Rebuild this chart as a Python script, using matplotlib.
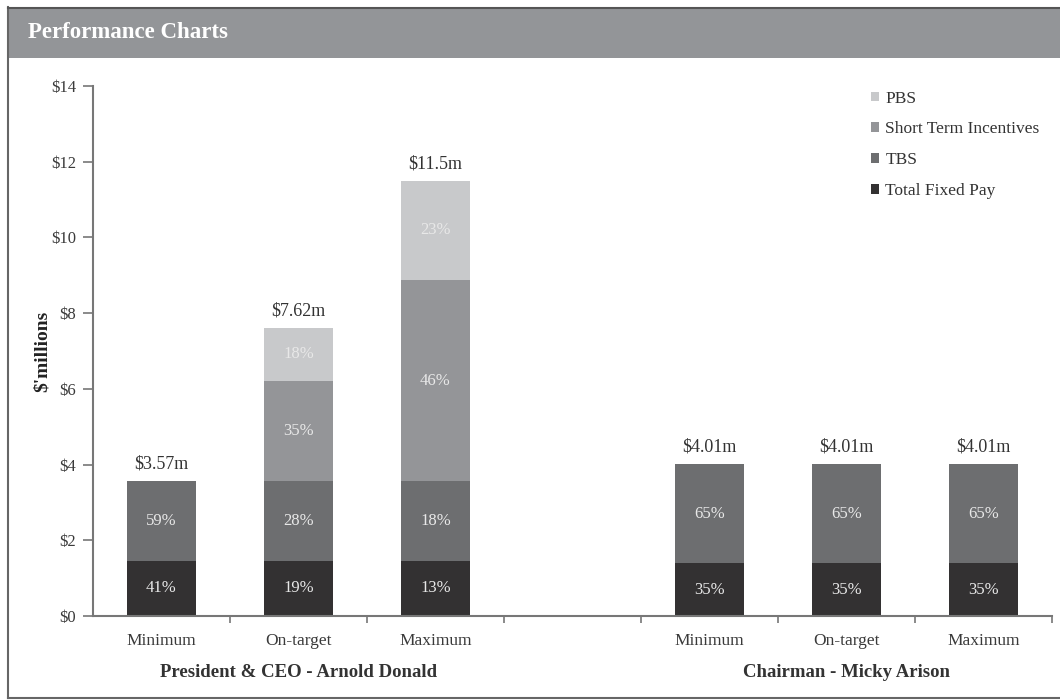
import matplotlib
matplotlib.use("Agg")
import matplotlib.pyplot as plt
from matplotlib.patches import Rectangle, Patch
from matplotlib.lines import Line2D
import numpy as np

plt.rcParams['font.family'] = ['Liberation Serif', 'DejaVu Serif']

# data ($ millions)
categories = ['Minimum', 'On-target', 'Maximum', '', 'Minimum', 'On-target', 'Maximum']
series_names = ['Total Fixed Pay', 'TBS', 'Short Term Incentives', 'PBS']
fixed_pay = [1.46, 1.46, 1.46, 0, 1.40, 1.40, 1.40]
tbs = [2.11, 2.11, 2.11, 0, 2.61, 2.61, 2.61]
sti = [0, 2.65, 5.30, 0, 0, 0, 0]
pbs = [0, 1.40, 2.63, 0, 0, 0, 0]
totals = ['$3.57m', '$7.62m', '$11.5m', '', '$4.01m', '$4.01m', '$4.01m']
pct_fixed = ['41%', '19%', '13%', '', '35%', '35%', '35%']
pct_tbs = ['59%', '28%', '18%', '', '65%', '65%', '65%']
pct_sti = ['', '35%', '46%', '', '', '', '']
pct_pbs = ['', '18%', '23%', '', '', '', '']
groups = ['President & CEO - Arnold Donald', 'Chairman - Micky Arison']
yticks = [0, 2, 4, 6, 8, 10, 12, 14]

colors = ['#333132', '#6d6e70', '#949598', '#c8c9cb']

W, H = 1060, 700
fig = plt.figure(figsize=(W / 100, H / 100), dpi=100)

# frame and header band
fig.add_artist(Rectangle((8 / W, 1 - 58 / H), 1 - 8 / W, 50 / H, transform=fig.transFigure,
                         facecolor='#939598', edgecolor='none'))
fig.add_artist(Line2D([8 / W, 8 / W], [1 - 698 / H, 1 - 7 / H], transform=fig.transFigure,
                      color='#666666', lw=1.5))
fig.add_artist(Line2D([8 / W, 1], [1 - 698 / H, 1 - 698 / H], transform=fig.transFigure,
                      color='#666666', lw=1.5))
fig.add_artist(Line2D([8 / W, 1], [1 - 7.5 / H, 1 - 7.5 / H], transform=fig.transFigure,
                      color='#555555', lw=1.5))
fig.text(28 / W, 1 - 32 / H, 'Performance Charts', color='white', fontsize=16.5,
         fontweight='bold', va='center', ha='left')

ax = fig.add_axes([93 / W, 1 - 616 / H, (1052 - 93) / W, (616 - 86) / H])

x = np.arange(len(categories))
width = 0.5
segs = [fixed_pay, tbs, sti, pbs]
pcts = [pct_fixed, pct_tbs, pct_sti, pct_pbs]
bottom = np.zeros(len(categories))
for vals, pl, col, name in zip(segs, pcts, colors, series_names):
    vals = np.array(vals)
    ax.bar(x, vals, width, bottom=bottom, color=col, label=name, linewidth=0)
    for xi, v, b, t in zip(x, vals, bottom, pl):
        if v > 0 and t:
            ax.text(xi, b + v / 2, t, ha='center', va='center', color='#e8e8e8', fontsize=12)
    bottom = bottom + vals

for xi, top, t in zip(x, bottom, totals):
    if t:
        ax.annotate(t, (xi, top), xytext=(0, 6), textcoords='offset points',
                    ha='center', va='bottom', color='#333333', fontsize=13)

ax.set_xlim(-0.5, len(categories) - 0.5)
ax.set_ylim(0, 14)
ax.set_yticks(yticks)
ax.set_yticklabels(['$%d' % v for v in yticks], fontsize=12, color='#3a3a3a')
ax.set_xticks(x)
ax.set_xticklabels(categories, fontsize=12.5, color='#3a3a3a')
ax.tick_params(axis='x', which='major', length=0, pad=12)
ax.set_xticks(np.arange(0.5, len(categories), 1), minor=True)
ax.tick_params(axis='x', which='minor', length=5, direction='out', color='#777777', width=1.2)
ax.tick_params(axis='y', length=7, width=1.2, color='#777777', pad=5)

for s in ['top', 'right']:
    ax.spines[s].set_visible(False)
for s in ['left', 'bottom']:
    ax.spines[s].set_color('#777777')
    ax.spines[s].set_linewidth(1.5)

ax.set_ylabel("$'millions", fontsize=14, fontweight='bold', color='#222222', labelpad=0)

# group labels
ax.text(1, -0.106, groups[0], transform=ax.get_xaxis_transform(), ha='center', va='center',
        fontsize=13.5, fontweight='bold', color='#333333')
ax.text(5, -0.106, groups[1], transform=ax.get_xaxis_transform(), ha='center', va='center',
        fontsize=13.5, fontweight='bold', color='#333333')

handles = [Patch(facecolor=c, edgecolor='none') for c in colors]
leg = fig.legend(handles[::-1], series_names[::-1], loc='upper left',
                 bbox_to_anchor=(855 / W, 1 - 75 / H), frameon=False, fontsize=12.5,
                 handlelength=0.5, handleheight=0.5, handletextpad=0.35, labelspacing=0.85)
for t in leg.get_texts():
    t.set_color('#333333')

fig.savefig('out.png', dpi=100)
